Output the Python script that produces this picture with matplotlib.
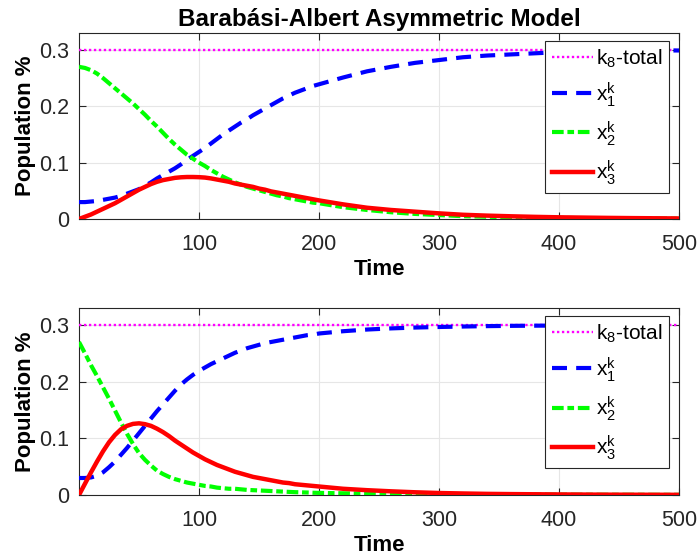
import matplotlib
matplotlib.use("Agg")
import matplotlib.pyplot as plt
from matplotlib.ticker import FixedLocator

plt.rcParams['font.family'] = ['Liberation Sans', 'DejaVu Sans']
plt.rcParams['mathtext.fontset'] = 'custom'
plt.rcParams['mathtext.rm'] = 'Liberation Sans'
plt.rcParams['mathtext.it'] = 'Liberation Sans'

# ---------------- data ----------------
t = [0, 5, 10, 15, 20, 25, 30, 35, 40, 45, 50, 55, 60, 65, 70, 75, 80, 85, 90, 95,
     100, 105, 110, 115, 120, 125, 130, 135, 140, 145, 150, 155, 160, 165, 170, 175,
     180, 185, 190, 195, 200,
     220, 240, 260, 280, 300, 320, 340, 360, 380, 400, 420, 440, 460, 480, 500]

total_t = [0, 500]
total_val = [0.3, 0.3]

top_x1 = [0.030, 0.030, 0.031, 0.032, 0.034, 0.036, 0.038, 0.041, 0.045, 0.049,
          0.053, 0.059, 0.065, 0.072, 0.078, 0.084, 0.090, 0.097, 0.105, 0.112,
          0.119, 0.126, 0.134, 0.142, 0.150, 0.157, 0.164, 0.171, 0.177, 0.184,
          0.190, 0.196, 0.202, 0.208, 0.214, 0.219, 0.224, 0.228, 0.232, 0.236, 0.239,
          0.251, 0.262, 0.270, 0.277, 0.282, 0.287, 0.290, 0.292, 0.294, 0.296,
          0.297, 0.298, 0.298, 0.299, 0.299]
top_x2 = [0.270, 0.268, 0.264, 0.258, 0.250, 0.241, 0.232, 0.223, 0.214, 0.205,
          0.195, 0.185, 0.174, 0.164, 0.153, 0.142, 0.132, 0.123, 0.114, 0.107,
          0.100, 0.094, 0.087, 0.081, 0.075, 0.070, 0.065, 0.061, 0.057, 0.054,
          0.051, 0.048, 0.045, 0.042, 0.040, 0.037, 0.035, 0.033, 0.031, 0.029, 0.028,
          0.021, 0.016, 0.012, 0.009, 0.007, 0.005, 0.004, 0.003, 0.0025, 0.002,
          0.0015, 0.0012, 0.001, 0.0008, 0.0006]
top_x3 = [0.000, 0.004, 0.008, 0.013, 0.018, 0.023, 0.028, 0.034, 0.040, 0.046,
          0.052, 0.057, 0.062, 0.066, 0.069, 0.071, 0.073, 0.074, 0.0745, 0.0745,
          0.0742, 0.0735, 0.072, 0.070, 0.068, 0.066, 0.063, 0.061, 0.059, 0.057,
          0.054, 0.052, 0.049, 0.047, 0.045, 0.043, 0.041, 0.039, 0.037, 0.035, 0.033,
          0.026, 0.020, 0.016, 0.013, 0.010, 0.0075, 0.006, 0.0048, 0.0038, 0.003,
          0.0025, 0.002, 0.0016, 0.0013, 0.001]

bot_x1 = [0.030, 0.030, 0.031, 0.034, 0.040, 0.049, 0.059, 0.071, 0.083, 0.096,
          0.109, 0.122, 0.135, 0.148, 0.160, 0.172, 0.184, 0.195, 0.204, 0.212,
          0.219, 0.225, 0.231, 0.236, 0.241, 0.246, 0.251, 0.255, 0.259, 0.262,
          0.265, 0.268, 0.270, 0.272, 0.274, 0.276, 0.278, 0.280, 0.282, 0.283, 0.285,
          0.289, 0.292, 0.294, 0.2955, 0.2965, 0.2973, 0.298, 0.2985, 0.2988, 0.299,
          0.2993, 0.2995, 0.2997, 0.2998, 0.2999]
bot_x2 = [0.270, 0.250, 0.229, 0.210, 0.190, 0.170, 0.149, 0.128, 0.108, 0.090,
          0.074, 0.062, 0.052, 0.043, 0.037, 0.032, 0.028, 0.025, 0.022, 0.020,
          0.018, 0.016, 0.015, 0.013, 0.012, 0.011, 0.011, 0.010, 0.009, 0.0085,
          0.008, 0.0075, 0.007, 0.0065, 0.006, 0.0055, 0.005, 0.0047, 0.0044, 0.004, 0.0037,
          0.003, 0.0025, 0.002, 0.0016, 0.0013, 0.001, 0.0009, 0.0008, 0.0007, 0.0006,
          0.0005, 0.0004, 0.0004, 0.0003, 0.0003]
bot_x3 = [0.000, 0.020, 0.040, 0.059, 0.077, 0.093, 0.106, 0.116, 0.122, 0.1255,
          0.1265, 0.125, 0.122, 0.117, 0.111, 0.104, 0.096, 0.089, 0.082, 0.075,
          0.069, 0.063, 0.058, 0.053, 0.049, 0.045, 0.041, 0.038, 0.035, 0.032,
          0.030, 0.028, 0.026, 0.024, 0.022, 0.021, 0.019, 0.018, 0.017, 0.016, 0.015,
          0.011, 0.0085, 0.0065, 0.0048, 0.0035, 0.0027, 0.002, 0.0016, 0.0013, 0.001,
          0.0008, 0.0006, 0.0005, 0.0004, 0.0003]

labels = [r'$\mathregular{k_8}$-total', r'$\mathregular{x_1^k}$',
          r'$\mathregular{x_2^k}$', r'$\mathregular{x_3^k}$']
xticks = [100, 200, 300, 400, 500]
yticks = [0, 0.1, 0.2, 0.3]
ytick_labels = ['0', '0.1', '0.2', '0.3']

# ---------------- figure ----------------
W, H = 699, 560
fig = plt.figure(figsize=(W / 100, H / 100), dpi=100)

def px_axes(l, t_, r, b):
    return fig.add_axes([l / W, 1 - b / H, (r - l) / W, (b - t_) / H])

ax1 = px_axes(79, 33, 679, 219)
ax2 = px_axes(79, 308, 679, 495)

tick_color = '#262626'
LW = 3.0

def draw(ax, x1, x2, x3):
    ax.plot(total_t, total_val, color='#ff00ff', lw=1.7, linestyle=(0, (1, 1.1)),
            label=labels[0], zorder=3)
    l1, = ax.plot(t, x1, color='#0000ff', lw=LW, label=labels[1], zorder=4)
    l1.set_dashes((3.6, 2.2))
    l2, = ax.plot(t, x2, color='#00ff00', lw=LW, label=labels[2], zorder=4)
    l2.set_dashes((2.8, 0.9, 1.6, 0.9))
    ax.plot(t, x3, color='#ff0000', lw=3.2, label=labels[3], zorder=5)
    ax.set_xlim(0, 500)
    ax.set_ylim(0, 0.33)
    ax.xaxis.set_major_locator(FixedLocator(xticks))
    ax.set_yticks(yticks)
    ax.set_yticklabels(ytick_labels)
    ax.tick_params(direction='in', top=True, right=True, length=5, width=0.8,
                   labelsize=15.5, colors=tick_color)
    ax.tick_params(axis='x', pad=11)
    ax.tick_params(axis='y', pad=7)
    ax.grid(True, color='#e6e6e6', lw=0.8, zorder=0)
    ax.set_axisbelow(True)
    for s in ax.spines.values():
        s.set_color(tick_color)
        s.set_linewidth(0.8)
    ax.set_xlabel('Time', fontsize=16, fontweight='bold', labelpad=3)
    ax.set_ylabel('Population %', fontsize=16, fontweight='bold', labelpad=2)
    leg = ax.legend(loc='upper right', bbox_to_anchor=(1 - 10 / 600, 1 - 8 / 186),
                    fontsize=15, frameon=True, fancybox=False, edgecolor='#262626',
                    framealpha=1, borderaxespad=0, handlelength=2.0, handletextpad=0.15,
                    labelspacing=0.5, borderpad=0.3)
    leg.get_frame().set_linewidth(0.8)

draw(ax1, top_x1, top_x2, top_x3)
draw(ax2, bot_x1, bot_x2, bot_x3)

ax1.set_title('Barabási-Albert Asymmetric Model', fontsize=17.5, fontweight='bold', pad=5)

fig.savefig('out.png', dpi=100)
